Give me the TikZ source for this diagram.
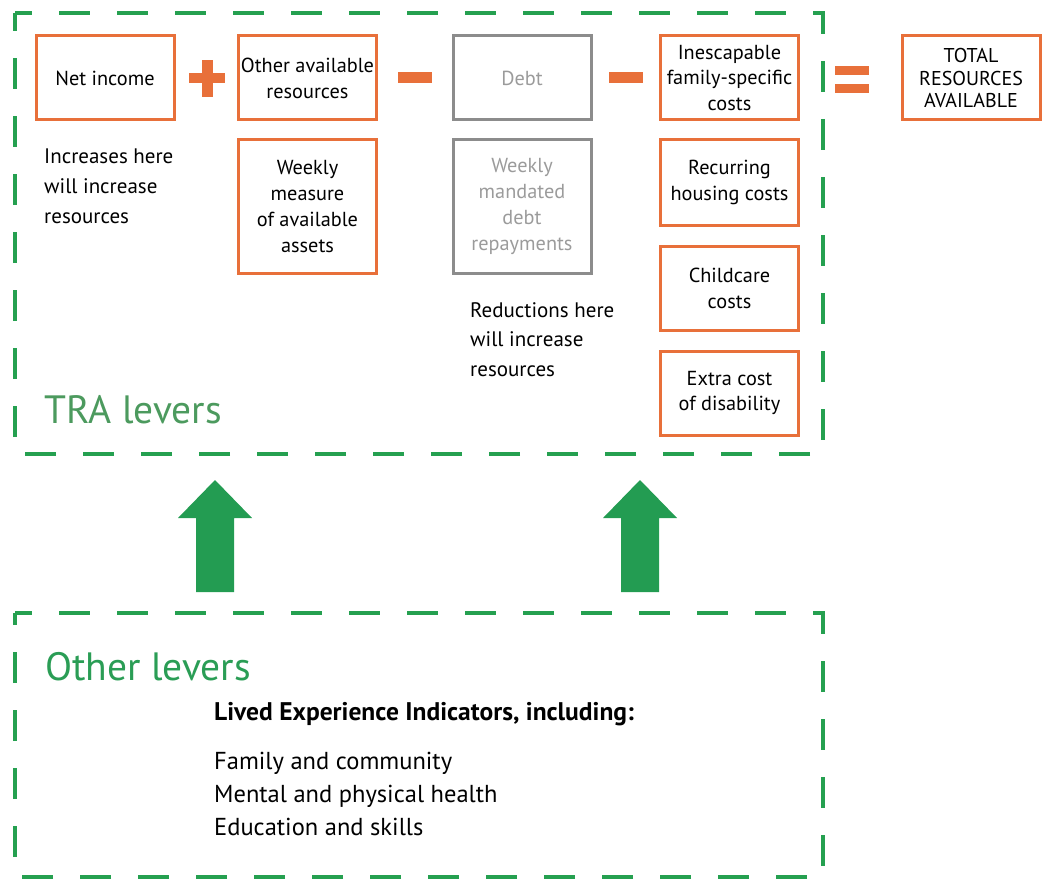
\documentclass[tikz,border=0pt]{standalone}
\usepackage{fontspec}
\setmainfont{PT Sans}
\definecolor{orng}{RGB}{232,112,58}
\definecolor{grn}{RGB}{37,160,80}
\definecolor{grnarrow}{RGB}{35,156,82}
\definecolor{trag}{RGB}{76,154,94}
\definecolor{othg}{RGB}{42,157,85}
\definecolor{gbox}{RGB}{140,140,140}
\definecolor{gtext}{RGB}{155,155,155}
\tikzset{
  obox/.style={draw=orng, line width=3, minimum width=138, minimum height=84, align=center, inner sep=2,
    font=\fontsize{20.3}{25.8}\selectfont},
  gboxs/.style={obox, draw=gbox, text=gtext},
  body/.style={anchor=base west, inner sep=0, font=\fontsize{21}{29}\selectfont},
  lvl/.style={anchor=base west, inner sep=0, font=\fontsize{39.5}{44}\selectfont},
  lst/.style={anchor=base west, inner sep=0, font=\fontsize{24.5}{33}\selectfont},
  dbox/.style={draw=grn, line width=4, dash pattern=on 31 off 27, dash phase=14},
  op/.style={fill=orng},
  blockarrow/.style={fill=grnarrow}
}
\begin{document}
\begin{tikzpicture}[x=1pt,y=-1pt]
\useasboundingbox (0,0) rectangle (1049,880);
% dashed frames
\draw[dbox] (15,13) -- (823,13) -- (823,454) -- (15,454) -- cycle;
\draw[dbox] (15,613) -- (823,613) -- (823,877) -- (15,877) -- cycle;
% boxes
\node[obox] (net) at (105,78) {Net income};
\node[obox] (other) at (307.5,78) {Other available\\resources};
\node[obox, minimum height=133] (weekly) at (307.5,206.5) {Weekly\\measure\\of available\\assets};
\node[gboxs] (debt) at (522,78) {Debt};
\node[gboxs, minimum height=133] (repay) at (522,206.5) {Weekly\\mandated\\debt\\repayments};
\node[obox] (inesc) at (729.5,78) {Inescapable\\family-specific\\costs};
\node[obox, minimum height=85] (housing) at (729.5,182.5) {Recurring\\housing costs};
\node[obox] (child) at (729.5,288) {Childcare\\costs};
\node[obox] (disab) at (729.5,393) {Extra cost\\of disability};
\node[obox, font=\fontsize{20}{22.5}\selectfont] (total) at (971,78) {TOTAL\\RESOURCES\\AVAILABLE};
% operators
\fill[op] (189,73) rectangle (225,83);
\fill[op] (202,60) rectangle (213,97);
\fill[op] (398,72) rectangle (432,83);
\fill[op] (609,72) rectangle (643,83);
\fill[op] (835,66) rectangle (869,75);
\fill[op] (835,84) rectangle (869,93);
% body texts
\node[body] (inc1) at (44,164) {Increases here};
\node[body] (inc2) at (44,193.5) {will increase};
\node[body] (inc3) at (44,223) {resources};
\node[body] (red1) at (470,317) {Reductions here};
\node[body] (red2) at (470,346.5) {will increase};
\node[body] (red3) at (470,376) {resources};
\node[lvl, text=trag] (tra) at (44,423) {TRA levers};
\node[lvl, text=othg] (oth) at (45,680) {Other levers};
\node[lst, font=\fontsize{25.5}{33}\selectfont\bfseries] (lived) at (214,720) {Lived Experience Indicators, including:};
\node[lst] (fam) at (214,769) {Family and community};
\node[lst] (ment) at (214,802) {Mental and physical health};
\node[lst] (edu) at (214,835) {Education and skills};
% block arrows
\fill[blockarrow] (196,592) -- (196,518) -- (178,518) -- (215,480) -- (252,518) -- (234,518) -- (234,592) -- cycle;
\fill[blockarrow] (621,592) -- (621,518) -- (603,518) -- (640,480) -- (677,518) -- (659,518) -- (659,592) -- cycle;
\end{tikzpicture}
\end{document}
